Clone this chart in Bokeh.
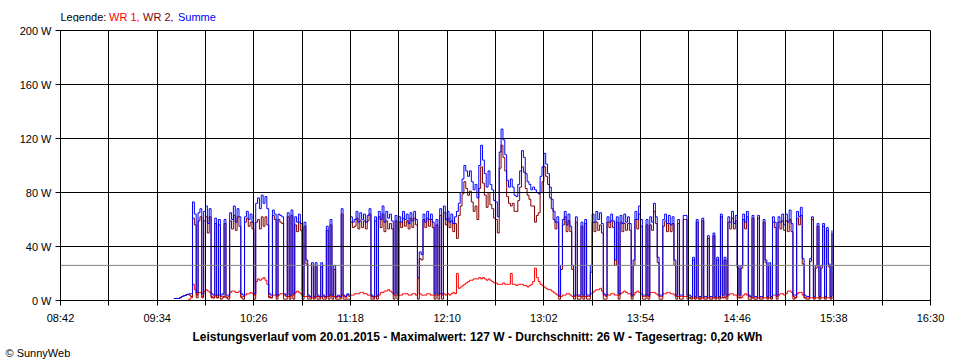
from bokeh.plotting import figure
from bokeh.layouts import column
from bokeh.models import FixedTicker, Span, Label, Title
from bokeh.embed import file_html
from bokeh.resources import INLINE

# ---------------- data ----------------
start_time = "09:43"          # first sample, one sample per minute

wr1 = [  # WR 1 (red), W
    0, 0, 0, 0, 0, 0, 0, 0, 1, 2, 12, 8, 4, 6, 6, 3, 7,
    8, 7, 6, 3, 2, 4, 2, 4, 3, 3, 3, 2, 3, 6, 7, 7, 6, 6, 7, 3, 3, 4, 5, 5, 6, 5,
    4, 14, 16, 15, 16, 17, 15, 12, 3, 2, 4, 4, 3, 4, 5, 5, 4, 3, 3, 3, 4, 4, 6, 7, 6, 5,
    3, 3, 3, 3, 2, 2, 2, 3, 3, 2, 3, 3, 2, 3, 3, 4, 3, 3, 2, 3, 2, 4, 3, 2, 4, 3,
    4, 4, 5, 5, 5, 6, 6, 5, 5, 4, 4, 3, 2, 3, 3, 4, 6, 6, 7, 7, 8, 7, 6, 4, 4, 4,
    4, 4, 5, 5, 5, 4, 4, 5, 5, 4, 16, 5, 4, 4, 4, 5, 5, 4, 4, 4, 4, 4, 5, 4, 5, 4,
    5, 4, 5, 6, 5, 20, 9, 10, 11, 12, 13, 14, 15, 15, 16, 16, 16, 17, 16, 17, 16, 15, 16, 15, 14, 13,
    13, 12, 12, 12, 13, 12, 12, 12, 20, 12, 12, 11, 12, 12, 12, 11, 11, 10, 11, 12, 14, 24, 17, 14, 12, 11,
    10, 9, 8, 8, 7, 6, 5, 4, 3, 3, 4, 4, 5, 5, 4, 3, 3, 4, 3, 3, 3, 3, 3, 3, 3, 5,
    6, 7, 8, 8, 9, 7, 4, 3, 4, 4, 5, 5, 4, 4, 4, 5, 6, 7, 6, 5, 5, 3, 4, 6, 7, 6,
    5, 3, 3, 4, 3, 6, 6, 6, 5, 4, 3, 3, 5, 5, 6, 6, 5, 5, 4, 3, 3, 3, 3, 3, 3, 3,
    2, 2, 2, 2, 2, 2, 1, 2, 2, 2, 2, 2, 2, 2, 2, 2, 2, 2, 2, 2, 3, 4, 5, 5, 4, 4,
    2, 2, 2, 4, 5, 4, 3, 2, 2, 2, 2, 2, 2, 2, 2, 2, 2, 2, 2, 4, 4, 3, 4, 5, 5, 4,
    5, 7, 7, 6, 3, 2, 5, 6, 6, 4, 2, 2, 2, 2, 2, 2, 2, 2, 2, 2, 2, 2, 2, 2, 2, 2,
]

wr2 = [  # WR 2 (dark red), W
    1.5, 1.5, 1.5, 2, 3, 3.5, 4, 4.5, 4, 3, 61, 56, 2, 59, 62, 2, 59,
    62, 50, 62, 2, 2, 57, 2, 56, 1, 2, 57, 2, 1, 59, 53, 63, 52, 62, 55, 2, 1, 58, 61, 55, 58, 53,
    1, 58, 60, 53, 62, 55, 62, 56, 2, 2, 63, 60, 1, 60, 58, 57, 1, 1, 62, 1, 63, 1, 56, 51, 58, 52,
    1, 55, 27, 1, 1, 26, 1, 25, 1, 1, 25, 1, 1, 52, 1, 56, 1, 23, 1, 1, 1, 64, 1, 1, 1, 1,
    58, 54, 55, 61, 53, 59, 54, 59, 53, 59, 64, 1, 1, 59, 1, 62, 54, 64, 51, 59, 53, 57, 53, 1, 59, 1,
    58, 54, 61, 55, 59, 53, 61, 54, 61, 56, 1, 31, 30, 60, 54, 61, 55, 60, 54, 1, 56, 1, 63, 1, 65, 56,
    61, 54, 59, 51, 57, 46, 63, 70, 79, 88, 83, 78, 81, 73, 66, 70, 60, 83, 99, 87, 78, 69, 80, 71, 68, 61,
    60, 50, 98, 115, 106, 96, 77, 72, 70, 72, 66, 66, 74, 84, 99, 95, 83, 78, 75, 70, 70, 58, 63, 65, 80, 88,
    99, 92, 86, 76, 68, 60, 53, 58, 1, 23, 56, 62, 51, 59, 51, 23, 1, 58, 1, 1, 55, 1, 57, 1, 1, 21,
    58, 51, 58, 52, 56, 50, 1, 1, 58, 54, 59, 54, 26, 58, 1, 58, 51, 57, 52, 57, 52, 1, 26, 60, 53, 64,
    55, 1, 1, 56, 1, 56, 52, 66, 57, 28, 1, 1, 55, 59, 51, 57, 51, 57, 26, 1, 57, 1, 1, 60, 60, 1,
    2, 1, 30, 1, 58, 1, 2, 59, 1, 1, 46, 1, 1, 48, 1, 30, 1, 62, 2, 30, 1, 58, 53, 61, 53, 59,
    24, 2, 24, 60, 53, 62, 1, 1, 61, 1, 1, 61, 1, 1, 58, 28, 1, 26, 1, 58, 54, 1, 58, 53, 59, 52,
    59, 51, 60, 51, 1, 2, 61, 56, 63, 27, 2, 1, 1, 29, 60, 1, 24, 55, 1, 24, 55, 1, 52, 25, 1, 50,
]

tick_labels = ["08:42", "09:34", "10:26", "11:18", "12:10",
               "13:02", "13:54", "14:46", "15:38", "16:30"]
y_ticks = [0, 40, 80, 120, 160, 200]
y_tick_labels = ["0 W", "40 W", "80 W", "120 W", "160 W", "200 W"]
average_w = 26
title_text = ("Leistungsverlauf vom 20.01.2015 - Maximalwert: 127 W - "
              "Durchschnitt: 26 W - Tagesertrag: 0,20 kWh")
legend_parts = ["Legende:", "WR 1,", "WR 2,", "Summe"]
legend_colors = ["black", "#FF0000", "#800000", "#0000FF"]
copyright_text = "\u00a9 SunnyWeb"

# ---------------- derived ----------------
def to_min(s):
    h, m = s.split(":")
    return int(h) * 60 + int(m)

t0 = to_min(start_time)
t = [t0 + i for i in range(len(wr1))]
summe = [a + b for a, b in zip(wr1, wr2)]

major = [to_min(s) for s in tick_labels]
mids = [(a + b) // 2 for a, b in zip(major[:-1], major[1:])]
all_ticks = sorted(major + mids)
x_over = {m: lab for m, lab in zip(major, tick_labels)}
x_over.update({m: "" for m in mids})
y_over = {v: lab for v, lab in zip(y_ticks, y_tick_labels)}

FONT = "Liberation Sans"
LEFT, RIGHT, FW = 60, 30, 870      # frame placement shared by all rows

# ---- legend strip (top 22 px); x coordinates equal page pixels ----
top = figure(frame_width=FW, frame_height=22, output_backend="svg", toolbar_location=None,
             x_range=(LEFT, LEFT + FW), y_range=(0, 22),
             min_border_left=LEFT, min_border_right=RIGHT,
             min_border_top=0, min_border_bottom=0)
top.axis.visible = False
top.grid.visible = False
top.outline_line_color = None
top.background_fill_color = "white"
top.border_fill_color = "white"
legend_px = [60, 108.5, 142.5, 177.5]
for txt, lx, col in zip(legend_parts, legend_px, legend_colors):
    top.add_layout(Label(x=lx, y=5.5, text=txt, text_font=FONT, text_font_size="11px",
                         text_align="left", text_baseline="middle", text_color=col))

# ---- main chart ----
p = figure(frame_width=FW, frame_height=270, output_backend="svg", toolbar_location=None,
           x_range=(major[0], major[-1]), y_range=(y_ticks[0], y_ticks[-1]),
           min_border_left=LEFT, min_border_top=8, min_border_right=RIGHT,
           min_border_bottom=60)
p.background_fill_color = "white"
p.border_fill_color = "white"
p.outline_line_color = "black"
p.outline_line_width = 1

for ax in (p.xaxis[0], p.yaxis[0]):
    ax.axis_line_color = "black"
    ax.major_tick_line_color = "black"
    ax.major_tick_out = 5
    ax.major_tick_in = 0
    ax.minor_tick_line_color = None
    ax.major_label_text_font = FONT
    ax.major_label_text_font_size = "11px"
    ax.major_label_text_color = "black"

p.xaxis.ticker = FixedTicker(ticks=all_ticks)
p.xaxis.major_label_overrides = x_over
p.xaxis.major_label_standoff = 6
p.yaxis.ticker = FixedTicker(ticks=y_ticks)
p.yaxis.major_label_overrides = y_over
p.yaxis.major_label_standoff = 4

p.xgrid.ticker = FixedTicker(ticks=all_ticks)
p.ygrid.ticker = FixedTicker(ticks=y_ticks)
for g in (p.xgrid[0], p.ygrid[0]):
    g.grid_line_color = "black"
    g.grid_line_width = 1
    g.level = "overlay"

p.step(t, wr1, mode="after", line_color="#FF0000", line_width=1)
p.step(t, wr2, mode="after", line_color="#800000", line_width=1)
p.step(t, summe, mode="after", line_color="#0000FF", line_width=1)

p.add_layout(Span(location=average_w, dimension="width", line_color="#808080",
                  line_width=1, level="overlay"))

# ---- texts below the axis ----
p.add_layout(Title(text=title_text, align="left", offset=192 - LEFT, standoff=2,
                   text_font=FONT, text_font_size="12px", text_font_style="bold",
                   text_color="black"), "below")
p.add_layout(Title(text=copyright_text, align="left", offset=5 - LEFT, standoff=0,
                   text_font=FONT, text_font_size="11px", text_font_style="normal",
                   text_color="black"), "below")

layout = column(top, p, spacing=0)
open("out.html", "w").write(file_html(layout, INLINE))
